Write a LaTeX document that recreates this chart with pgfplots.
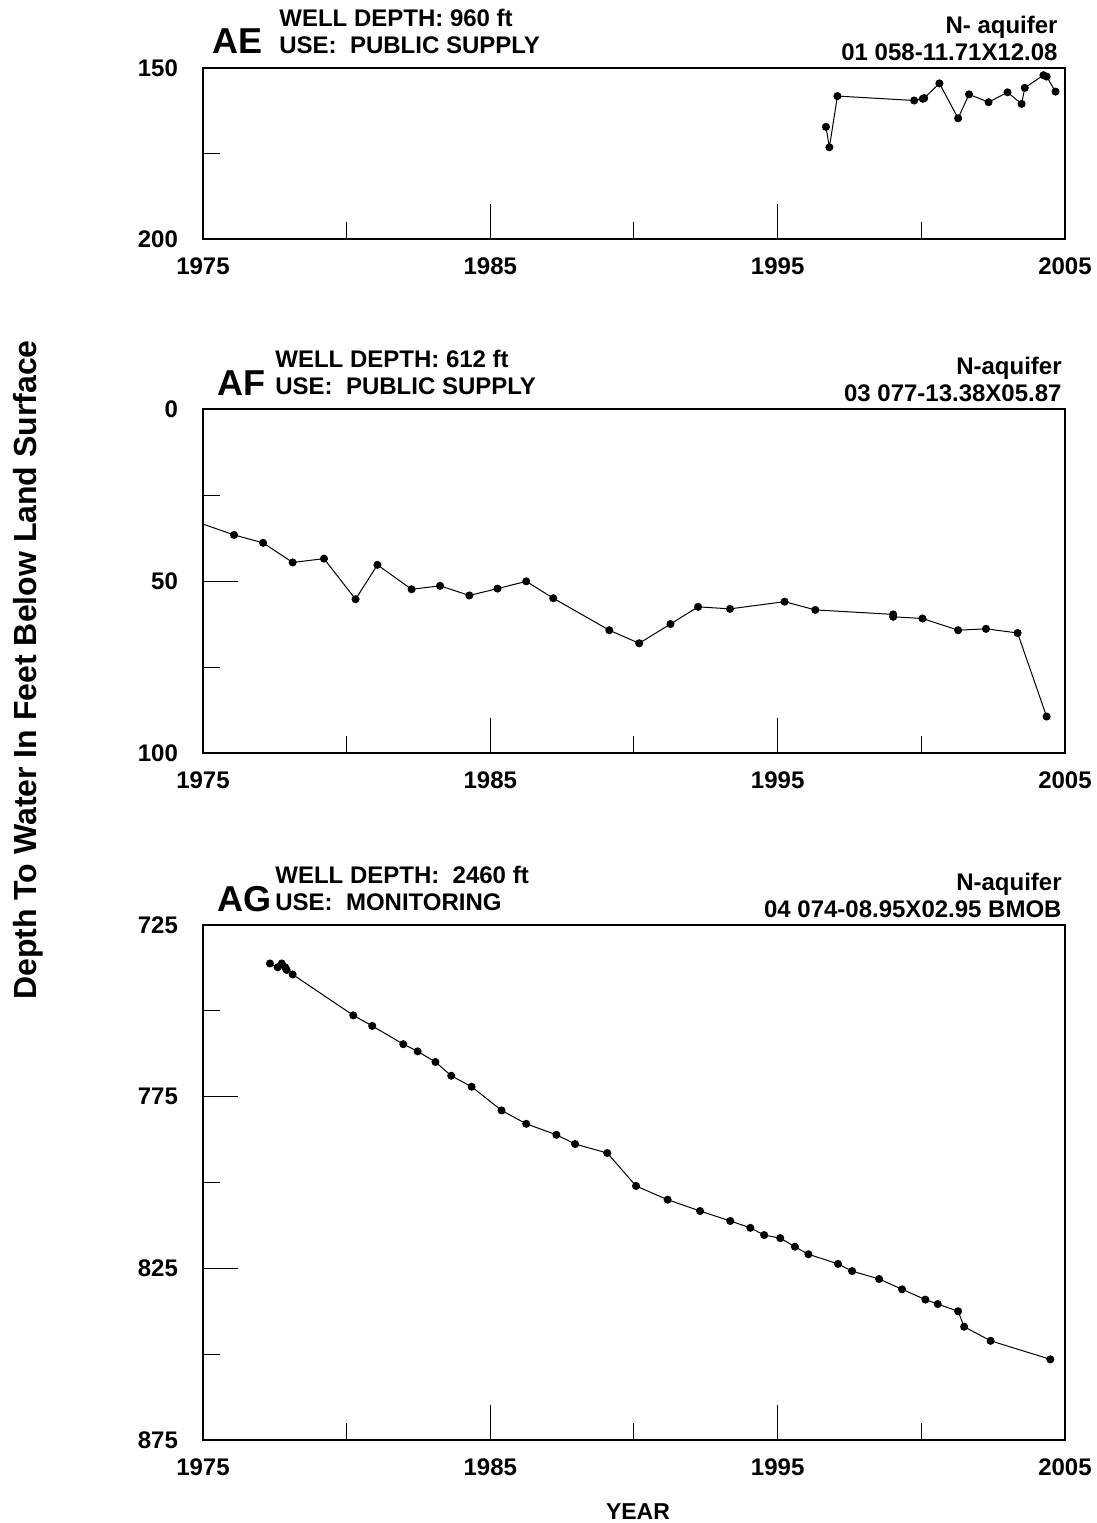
\documentclass[border=0pt]{standalone}
\usepackage{fontspec}
\setmainfont{Liberation Sans}
\usepackage{pgfplots}
\pgfplotsset{compat=1.18}

\pgfplotsset{
  wellaxis/.style={
    scale only axis, width=431pt,
    xmin=1975, xmax=2005,
    xtick={1975,1985,1995,2005},
    xticklabels={1975,1985,1995,2005},
    minor xtick={1980,1990,2000},
    y dir=reverse,
    tick align=inside,
    tick pos=left,
    major tick length=17.5pt,
    minor tick length=8.5pt,
    axis line style={line width=0.8pt},
    every tick/.style={black, line width=0.5pt},
    ticklabel style={font=\fontsize{12}{14}\selectfont\bfseries},
    xticklabel style={yshift=-6pt},
    yticklabel style={xshift=-9pt},
    clip=true,
  },
  wellline/.style={black, line width=0.5pt, mark=*, mark size=1.75pt, mark options={fill=black}},
}

\begin{document}
\begin{tikzpicture}
\useasboundingbox (0,0) rectangle (548.5pt,-761.5pt);

% ---------------- AE ----------------
\begin{axis}[wellaxis, at={(101.5pt,-119.5pt)}, anchor=south west, height=85.5pt,
  ymin=150, ymax=200, ytick={150,200}, yticklabels={150,200}, minor ytick={175}]
\addplot[wellline] coordinates {
(1996.68,167.2) (1996.80,173.2) (1997.08,158.2) (1999.75,159.5) (2000.05,159.0)
(2000.10,158.8) (2000.63,154.5) (2001.28,164.7) (2001.66,157.7) (2002.34,160.0)
(2003.00,157.1) (2003.49,160.5) (2003.60,155.8) (2004.25,152.1) (2004.36,152.5)
(2004.67,156.9)};
\end{axis}

% ---------------- AF ----------------
\begin{axis}[wellaxis, at={(101.5pt,-376.5pt)}, anchor=south west, height=172pt,
  ymin=0, ymax=100, ytick={0,50,100}, yticklabels={0,50,100}, minor ytick={25,75}]
\addplot[black, line width=0.5pt] coordinates {(1974.3,31.4) (1976.08,36.6)};
\addplot[wellline] coordinates {
(1976.08,36.6) (1977.09,38.9) (1978.12,44.6) (1979.21,43.5) (1980.31,55.3)
(1981.07,45.3) (1982.26,52.4) (1983.25,51.4) (1984.27,54.2) (1985.25,52.2)
(1986.25,50.1) (1987.19,55.0) (1989.14,64.3) (1990.18,68.1) (1991.27,62.5)
(1992.23,57.5) (1993.34,58.1) (1995.24,56.0) (1996.31,58.4) (1999.02,59.7)
(1999.02,60.4) (2000.04,60.9) (2001.28,64.3) (2002.25,63.9) (2003.35,65.1)
(2004.36,89.4)};
\end{axis}

% ---------------- AG ----------------
\begin{axis}[wellaxis, at={(101.5pt,-720pt)}, anchor=south west, height=257.5pt,
  ymin=725, ymax=875, ytick={725,775,825,875}, yticklabels={725,775,825,875}, minor ytick={750,800,850}]
\addplot[wellline] coordinates {
(1977.33,736.2) (1977.60,737.3) (1977.74,736.2) (1977.86,737.3) (1977.91,738.1)
(1978.12,739.4) (1980.23,751.3) (1980.89,754.4) (1981.97,759.7) (1982.47,761.8)
(1983.09,764.9) (1983.64,768.9) (1984.35,772.1) (1985.39,779.0) (1986.25,782.9)
(1987.30,786.1) (1987.95,788.8) (1989.07,791.4) (1990.07,801.0) (1991.17,805.0)
(1992.30,808.3) (1993.35,811.2) (1994.05,813.2) (1994.53,815.3) (1995.09,816.2)
(1995.60,818.7) (1996.07,820.9) (1997.10,823.7) (1997.59,825.8) (1998.53,828.1)
(1999.33,831.1) (2000.14,834.1) (2000.57,835.4) (2001.28,837.5) (2001.49,842.0)
(2002.41,846.1) (2004.49,851.5)};
\end{axis}

% ---------------- texts ----------------
\tikzset{hdr/.style={inner sep=0pt, font=\fontsize{12}{14}\selectfont\bfseries},
         big/.style={inner sep=0pt, font=\fontsize{18}{20}\selectfont\bfseries}}
% AE
\node[big, anchor=base west] at (106pt,-26.5pt) {AE};
\node[hdr, anchor=base west] at (139.5pt,-13pt) {WELL DEPTH: 960 ft};
\node[hdr, anchor=base west] at (139.5pt,-26.5pt) {USE:\ \ PUBLIC SUPPLY};
\node[hdr, anchor=base east] at (529pt,-16.5pt) {N- aquifer};
\node[hdr, anchor=base east] at (529pt,-30pt) {01 058-11.71X12.08};
% AF
\node[big, anchor=base west] at (108.5pt,-197.5pt) {AF};
\node[hdr, anchor=base west] at (137.5pt,-183.5pt) {WELL DEPTH: 612 ft};
\node[hdr, anchor=base west] at (137.5pt,-197pt) {USE:\ \ PUBLIC SUPPLY};
\node[hdr, anchor=base east] at (531pt,-187pt) {N-aquifer};
\node[hdr, anchor=base east] at (531pt,-200.5pt) {03 077-13.38X05.87};
% AG
\node[big, anchor=base west] at (108.5pt,-455.5pt) {AG};
\node[hdr, anchor=base west] at (137.5pt,-441.5pt) {WELL DEPTH:\ \ 2460 ft};
\node[hdr, anchor=base west] at (137.5pt,-455pt) {USE:\ \ MONITORING};
\node[hdr, anchor=base east] at (531pt,-445pt) {N-aquifer};
\node[hdr, anchor=base east] at (531pt,-458.5pt) {04 074-08.95X02.95 BMOB};

% axis titles
\node[rotate=90, inner sep=0pt, font=\fontsize{16}{18}\selectfont\bfseries] at (14pt,-335pt)
  {Depth To Water In Feet Below Land Surface};
\node[inner sep=0pt, font=\fontsize{11.5}{13}\selectfont\bfseries] at (319pt,-756pt) {YEAR};
\end{tikzpicture}
\end{document}
